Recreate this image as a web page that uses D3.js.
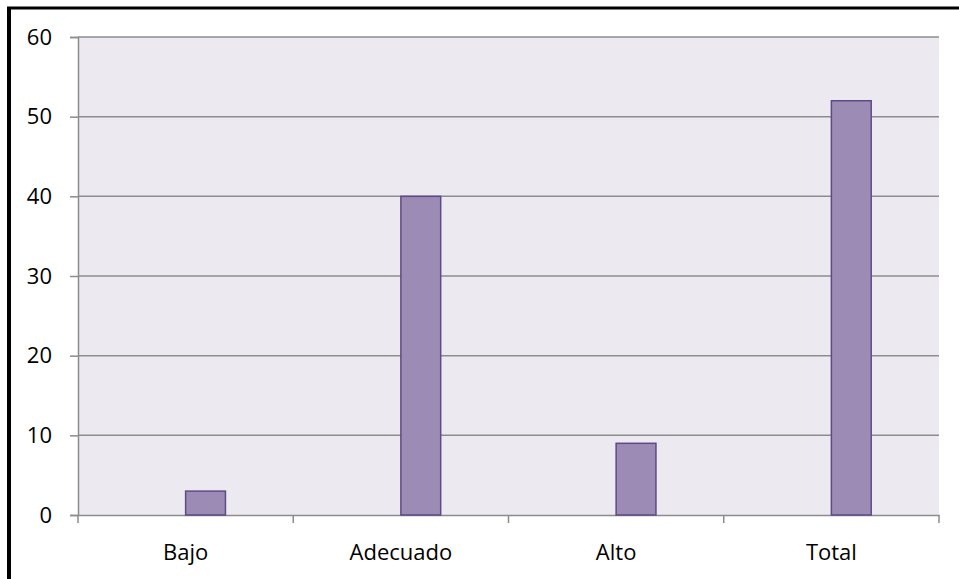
<!DOCTYPE html>
<html>
<head>
<meta charset="utf-8">
<script src="https://d3js.org/d3.v7.min.js"></script>
<style>
  * { margin: 0; padding: 0; }
  html, body { width: 959px; height: 579px; background: #ffffff; overflow: hidden; }
  body { font-family: 'Open Sans', 'Noto Sans', sans-serif; }
</style>
</head>
<body>
<div id="chart"></div>
<script>
const categories = ['Bajo', 'Adecuado', 'Alto', 'Total'];
const values = [3, 40, 9, 52];
const yTicks = [0, 10, 20, 30, 40, 50, 60];

const width = 959, height = 579;
const margin = { top: 37, right: 20, bottom: 64, left: 78 };
const fontSize = 22;

const svg = d3.select('#chart').append('svg')
  .attr('width', width).attr('height', height);

// outer frame (left and top edges visible)
svg.append('line').attr('x1', 9).attr('x2', 9).attr('y1', 7).attr('y2', height)
  .attr('stroke', '#000').attr('stroke-width', 4);
svg.append('line').attr('x1', 7).attr('x2', width).attr('y1', 8).attr('y2', 8)
  .attr('stroke', '#000').attr('stroke-width', 3);

const x = d3.scaleBand().domain(categories)
  .range([margin.left, width - margin.right]).padding(0);
const y = d3.scaleLinear().domain([0, 60])
  .range([height - margin.bottom, margin.top]);

// plot background
svg.append('rect')
  .attr('x', margin.left).attr('y', y(60))
  .attr('width', x.range()[1] - margin.left).attr('height', y(0) - y(60))
  .attr('fill', '#ECEAF0');

// gridlines
svg.append('g').selectAll('line').data(yTicks.filter(d => d > 0)).join('line')
  .attr('x1', margin.left).attr('x2', x.range()[1])
  .attr('y1', d => y(d)).attr('y2', d => y(d))
  .attr('stroke', '#8C8C8C').attr('stroke-width', 1.5);

// y axis
const yAxis = svg.append('g').attr('transform', `translate(${margin.left},0)`)
  .call(d3.axisLeft(y).tickValues(yTicks).tickSize(8).tickPadding(18));
yAxis.attr('font-size', fontSize).attr('font-family', "'Open Sans', sans-serif");
yAxis.select('.domain').attr('stroke', '#8C8C8C').attr('stroke-width', 1.5);
yAxis.selectAll('.tick line').attr('stroke', '#8C8C8C').attr('stroke-width', 1.5);
yAxis.selectAll('.tick text').attr('fill', '#000');

// x axis
const xAxis = svg.append('g').attr('transform', `translate(0,${y(0)})`)
  .call(d3.axisBottom(x).tickSize(0).tickPadding(29));
xAxis.attr('font-size', fontSize).attr('font-family', "'Open Sans', sans-serif");
xAxis.select('.domain').attr('stroke', '#8C8C8C').attr('stroke-width', 1.5);
xAxis.selectAll('.tick text').attr('fill', '#000');

// category boundary ticks
const bounds = categories.map(c => x(c)).concat([x.range()[1]]);
svg.append('g').selectAll('line').data(bounds).join('line')
  .attr('x1', d => d).attr('x2', d => d)
  .attr('y1', y(0)).attr('y2', y(0) + 8)
  .attr('stroke', '#8C8C8C').attr('stroke-width', 1.5);

// bars (second slot of each category)
const barW = x.bandwidth() * 0.185;
svg.append('g').selectAll('rect').data(values).join('rect')
  .attr('x', (d, i) => x(categories[i]) + x.bandwidth() / 2)
  .attr('y', d => y(d))
  .attr('width', barW)
  .attr('height', d => y(0) - y(d))
  .attr('fill', '#9C8BB5')
  .attr('stroke', '#5E4A86')
  .attr('stroke-width', 1.5);
</script>
</body>
</html>
